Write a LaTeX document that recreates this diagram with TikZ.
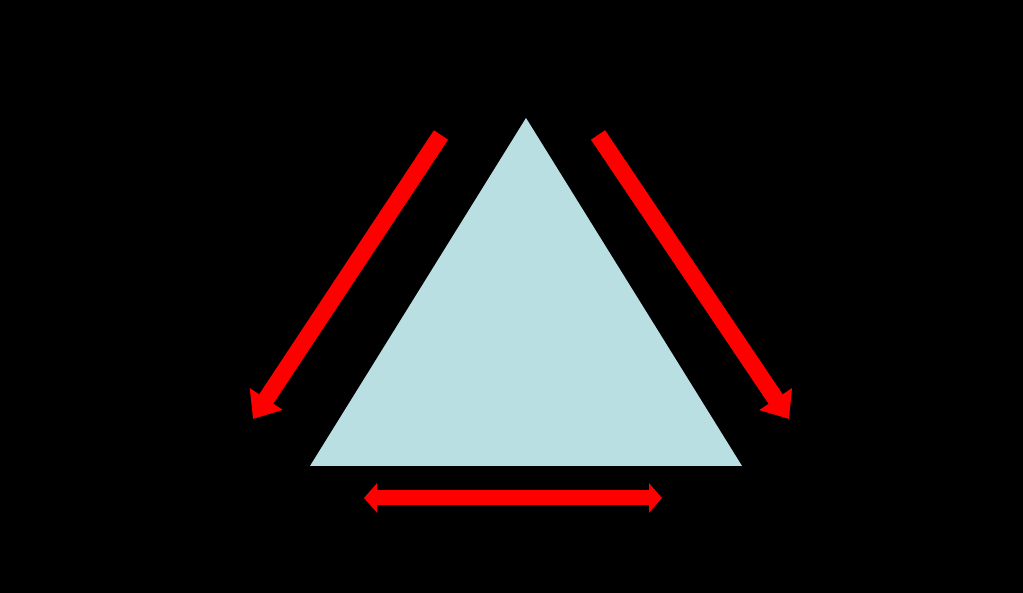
\documentclass[tikz,border=0pt]{standalone}
\usetikzlibrary{arrows.meta}
\definecolor{paleblue}{HTML}{B9DFE3}
\definecolor{flowred}{HTML}{FF0000}
\tikzset{
    flow/.style={flowred, line width=1.7mm, -{Triangle[width=3.8mm,length=2.4mm]}},
    twoflow/.style={flowred, line width=1.5mm, {Triangle[width=2.9mm,length=1.3mm]}-{Triangle[width=2.9mm,length=1.3mm]}}
}
\begin{document}
\begin{tikzpicture}
        \useasboundingbox (0,0) rectangle (10.23,5.93);
        \fill [black] (0,0) rectangle (10.23,5.93);
        \fill [paleblue] (5.26,4.75) -- (3.10,1.27) -- (7.42,1.27) -- cycle;

        \coordinate (lefttop) at (4.41,4.58);
        \coordinate (leftend) at (2.53,1.74);
        \coordinate (righttop) at (5.98,4.58);
        \coordinate (rightend) at (7.89,1.74);
        \coordinate (baseleft) at (3.64,0.95);
        \coordinate (baseright) at (6.62,0.95);

        \draw [flow] (lefttop) -- (leftend);
        \draw [flow] (righttop) -- (rightend);
        \draw [twoflow] (baseleft) -- (baseright);
    \end{tikzpicture}
\end{document}
